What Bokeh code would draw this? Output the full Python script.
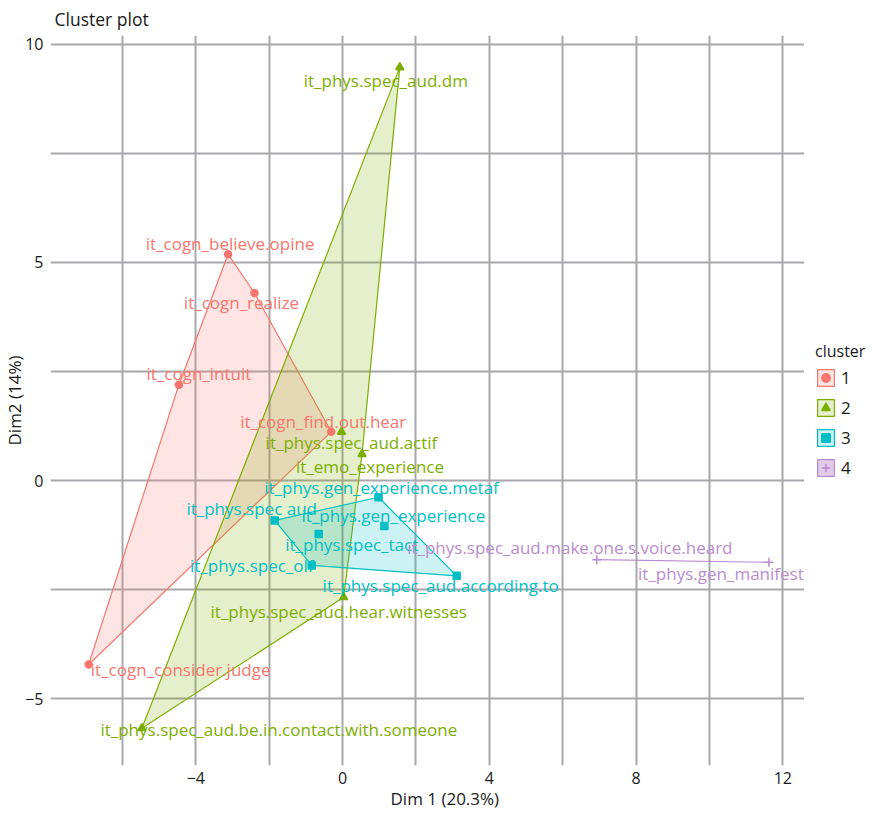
from bokeh.plotting import figure
from bokeh.layouts import row
from bokeh.models import Range1d, FixedTicker, Legend, LegendItem, ColumnDataSource, Title
from bokeh.core.properties import value
from bokeh.embed import file_html
from bokeh.resources import INLINE

# ---------------- data ----------------
cluster_ids = ["1", "2", "3", "4"]

c1_names = ["it_cogn_believe.opine", "it_cogn_realize", "it_cogn_intuit",
            "it_cogn_find.out.hear", "it_cogn_consider.judge"]
c1_x = [-3.12, -2.40, -4.46, -0.31, -6.92]
c1_y = [5.19, 4.30, 2.20, 1.12, -4.21]

c2_names = ["it_phys.spec_aud.dm", "it_phys.spec_aud.actif", "it_emo_experience",
            "it_phys.spec_aud.hear.witnesses", "it_phys.spec_aud.be.in.contact.with.someone"]
c2_x = [1.56, -0.03, 0.53, 0.03, -5.47]
c2_y = [9.47, 1.12, 0.61, -2.67, -5.67]

c3_names = ["it_phys.spec aud", "it_phys.gen_experience.metaf", "it_phys.gen_experience",
            "it_phys.spec_tact", "it_phys.spec_olf", "it_phys.spec_aud.according.to"]
c3_x = [-1.85, 0.98, 1.14, -0.65, -0.84, 3.11]
c3_y = [-0.91, -0.38, -1.04, -1.22, -1.94, -2.18]

c4_names = ["it_phys.spec_aud.make.one.s.voice.heard", "it_phys.gen_manifest"]
c4_x = [6.93, 11.62]
c4_y = [-1.81, -1.87]

x_major = [-4, 0, 4, 8, 12]
x_minor = [-6, -2, 2, 6, 10]
y_major = [-5, 0, 5, 10]
y_minor = [-2.5, 2.5, 7.5]

# ---------------- layout / style ----------------
# repelled label offsets in screen pixels (dx right, dy down)
label_offsets = {
    "it_cogn_believe.opine": (2, -11),
    "it_cogn_realize": (-13, 9),
    "it_cogn_intuit": (20, -11),
    "it_cogn_find.out.hear": (-8, -10),
    "it_cogn_consider.judge": (92, 5),
    "it_phys.spec_aud.dm": (-14, 13),
    "it_phys.spec_aud.actif": (10, 11),
    "it_emo_experience": (8, 12),
    "it_phys.spec_aud.hear.witnesses": (-5, 14),
    "it_phys.spec_aud.be.in.contact.with.someone": (137, 1),
    "it_phys.spec aud": (-23, -12),
    "it_phys.gen_experience.metaf": (3, -10),
    "it_phys.gen_experience": (9, -11),
    "it_phys.spec_tact": (33, 11),
    "it_phys.spec_olf": (-60, 0),
    "it_phys.spec_aud.according.to": (-16, 10),
    "it_phys.spec_aud.make.one.s.voice.heard": (-27, -12),
    "it_phys.gen_manifest": (-48, 11),
}

colors = ["#F8766D", "#7CAE00", "#00BFC4", "#BB8CD0"]
markers = ["circle", "triangle", "square", "cross"]
marker_sizes = [7, 8, 7, 9]
fill_alphas = [0.2, 0.2, 0.2, 0.45]
FONT = "Open Sans"
GRID = "#A8A8AC"
INK = "#1a1a1a"


def convex_hull(xs, ys):
    pts = sorted(set(zip(xs, ys)))
    if len(pts) <= 2:
        return [q[0] for q in pts], [q[1] for q in pts]

    def cross(o, a, b):
        return (a[0] - o[0]) * (b[1] - o[1]) - (a[1] - o[1]) * (b[0] - o[0])
    lower, upper = [], []
    for pt in pts:
        while len(lower) >= 2 and cross(lower[-2], lower[-1], pt) <= 0:
            lower.pop()
        lower.append(pt)
    for pt in reversed(pts):
        while len(upper) >= 2 and cross(upper[-2], upper[-1], pt) <= 0:
            upper.pop()
        upper.append(pt)
    hull = lower[:-1] + upper[:-1]
    return [q[0] for q in hull], [q[1] for q in hull]


p = figure(frame_width=754, frame_height=730, output_backend="svg", toolbar_location=None,
           x_range=Range1d(-7.96, 12.59), y_range=Range1d(-6.525, 10.2),
           min_border=0, min_border_left=46, min_border_right=0,
           min_border_top=33, min_border_bottom=46)
p.outline_line_color = None
p.background_fill_color = "white"

p.title.text = "Cluster plot"
p.title.text_font = FONT
p.title.text_font_size = "17.5px"
p.title.text_font_style = "normal"
p.title.text_color = INK
p.title.align = "left"
p.title.offset = 4
p.title.standoff = 9

for ax in (p.xaxis, p.yaxis):
    ax.axis_line_color = None
    ax.major_tick_line_color = None
    ax.minor_tick_line_color = None
    ax.major_tick_out = 0
    ax.major_tick_in = 0
    ax.minor_tick_out = 0
    ax.minor_tick_in = 0
    ax.major_label_text_font = FONT
    ax.major_label_text_font_size = "16px"
    ax.major_label_text_color = INK
    ax.axis_label_text_font = FONT
    ax.axis_label_text_font_size = "17px"
    ax.axis_label_text_font_style = "normal"
    ax.axis_label_text_color = INK

p.xaxis.ticker = FixedTicker(ticks=x_major, minor_ticks=x_minor)
p.yaxis.ticker = FixedTicker(ticks=y_major, minor_ticks=y_minor)
p.xaxis.major_label_standoff = 6
p.yaxis.major_label_standoff = 7
p.yaxis.axis_label_standoff = -4
p.xaxis.major_label_overrides = {v: str(v).replace("-", "\u2212") for v in x_major}
p.yaxis.major_label_overrides = {v: str(v).replace("-", "\u2212") for v in y_major}
p.yaxis.axis_label = "Dim2 (14%)"

p.add_layout(Title(text="Dim 1 (20.3%)", align="left", offset=340, standoff=-3,
                   text_font=FONT, text_font_size="17px", text_font_style="normal",
                   text_color=INK), "below")

for g in (p.xgrid, p.ygrid):
    g.grid_line_color = GRID
    g.grid_line_width = 2
    g.minor_grid_line_color = GRID
    g.minor_grid_line_width = 2

clusters = [(c1_names, c1_x, c1_y), (c2_names, c2_x, c2_y),
            (c3_names, c3_x, c3_y), (c4_names, c4_x, c4_y)]

text_srcs = []
for i, (names, xs, ys) in enumerate(clusters):
    hx, hy = convex_hull(xs, ys)
    p.patch(hx, hy, fill_color=colors[i], fill_alpha=fill_alphas[i],
            line_color=colors[i], line_width=1.2)

for i, (names, xs, ys) in enumerate(clusters):
    src = ColumnDataSource(dict(x=xs, y=ys, name=names,
                                dx=[label_offsets[n][0] for n in names],
                                dy=[label_offsets[n][1] for n in names]))
    p.scatter("x", "y", source=src, marker=markers[i], size=marker_sizes[i],
              fill_color=colors[i], line_color=colors[i], line_width=1.5)
    text_srcs.append(src)

for i, src in enumerate(text_srcs):
    p.text("x", "y", text="name", source=src, x_offset="dx", y_offset="dy",
           text_align="center", text_baseline="middle", text_color=colors[i],
           text_font=value(FONT), text_font_size="17px")

# ---------------- legend panel (to the right of the plot panel) ----------------
lg = figure(width=65, height=809, output_backend="svg", toolbar_location=None,
            x_range=Range1d(100, 101), y_range=Range1d(100, 101),
            min_border=0, min_border_left=0, min_border_right=0,
            min_border_top=0, min_border_bottom=0)
lg.axis.visible = False
lg.grid.visible = False
lg.outline_line_color = None

leg_items = []
for i, (names, xs, ys) in enumerate(clusters):
    hx, hy = convex_hull(xs, ys)
    kp = lg.patch(hx, hy, fill_color=colors[i], fill_alpha=fill_alphas[i],
                  line_color=colors[i], line_width=1.2)
    ks = lg.scatter(xs, ys, marker=markers[i], size=marker_sizes[i],
                    fill_color=colors[i], line_color=colors[i], line_width=1.5)
    leg_items.append(LegendItem(label=cluster_ids[i], renderers=[kp, ks]))

legend = Legend(items=leg_items, title="cluster", location=(11, 284),
                glyph_width=21, glyph_height=21, label_standoff=5, spacing=7,
                padding=4, margin=0, border_line_color=None, background_fill_alpha=0,
                label_text_font=FONT, label_text_font_size="17px", label_text_color=INK,
                title_text_font=FONT, title_text_font_size="16px", title_text_font_style="normal",
                title_text_color=INK, title_standoff=4)
lg.add_layout(legend, "center")

layout = row(p, lg, spacing=0)
open("out.html", "w").write(file_html(layout, INLINE))
